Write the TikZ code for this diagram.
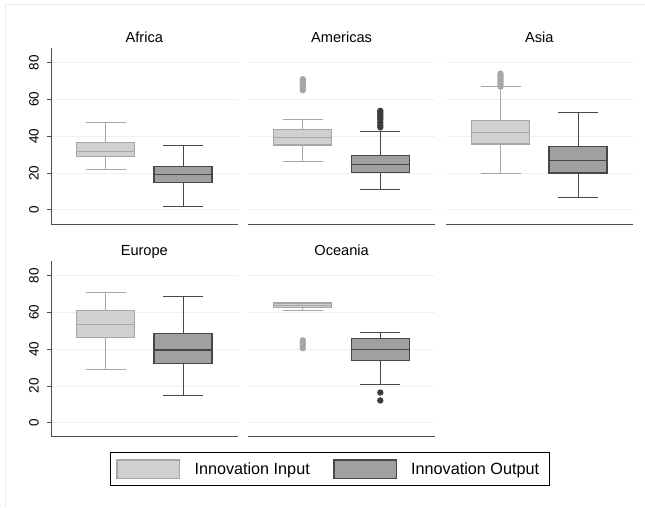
\documentclass[tikz,border=0pt]{standalone}
\usepackage{fontspec}
\setmainfont{Liberation Sans}
\definecolor{gridc}{HTML}{EAF2F3}
\definecolor{framec}{HTML}{E6EDEF}
\definecolor{axisc}{HTML}{4D4D4D}
\definecolor{infill}{HTML}{D0D0D0}
\definecolor{inline}{HTML}{A6A6A6}
\definecolor{outfill}{HTML}{A0A0A0}
\definecolor{outline}{HTML}{474747}
\definecolor{outdot}{HTML}{3C3C3C}

\tikzset{
  gridline/.style={gridc, line width=0.8pt},
  axisline/.style={axisc, line width=1pt},
  tickline/.style={axisc, line width=0.8pt},
  ticklabel/.style={rotate=90, font=\fontsize{13.5}{14}\selectfont, inner sep=0pt},
  paneltitle/.style={font=\fontsize{14.6}{16}\selectfont, inner sep=0pt, anchor=base},
  legendtext/.style={font=\fontsize{16.2}{18}\selectfont, inner sep=0pt, anchor=west},
  inwhisk/.style={inline, line width=1pt},
  outwhisk/.style={outline, line width=1pt},
  inbox/.style={draw=inline, fill=infill, line width=1.2pt},
  outbox/.style={draw=outline, fill=outfill, line width=1.2pt},
  indot/.style={fill=inline},
  outdotst/.style={fill=outdot},
}

% value scale: pixels per unit of the y axis
\newcommand{\vsc}{1.84}

% box with whiskers: #1 centre x, #2 y of zero, #3 lower whisker, #4 Q1,
% #5 median, #6 Q3, #7 upper whisker, #8 style prefix (in/out)
\newcommand{\whiskerbox}[8]{%
  \draw[#8whisk] (#1,{#2-\vsc*#3}) -- (#1,{#2-\vsc*#4})
                 (#1,{#2-\vsc*#6}) -- (#1,{#2-\vsc*#7})
                 ({#1-20},{#2-\vsc*#3}) -- ({#1+20},{#2-\vsc*#3})
                 ({#1-20},{#2-\vsc*#7}) -- ({#1+20},{#2-\vsc*#7});
  \draw[#8box] ({#1-29},{#2-\vsc*#4}) rectangle ({#1+29},{#2-\vsc*#6});
  \draw[#8whisk, line width=1.2pt] ({#1-29},{#2-\vsc*#5}) -- ({#1+29},{#2-\vsc*#5});
}

% outlying points: #1 centre x, #2 y of zero, #3 style, #4 list of values
\newcommand{\outpts}[4]{%
  \foreach \v in {#4} {\fill[#3] (#1,{#2-\vsc*\v}) circle (3.2pt);}
}

% panel frame: #1 left x, #2 y of zero, #3 x-axis y, #4 title baseline y, #5 title
\newcommand{\panelbase}[5]{%
  \foreach \g in {0,20,...,80} {\draw[gridline] (#1,{#2-\vsc*\g}) -- ({#1+186.7},{#2-\vsc*\g});}
  \draw[axisline] (#1,#3) -- ({#1+186.7},#3);
  \node[paneltitle] at ({#1+93.3},#4) {#5};
}

% y axis with ticks: #1 axis x, #2 y of zero, #3 axis top, #4 axis bottom
\newcommand{\yaxis}[4]{%
  \draw[axisline] (#1,#3) -- (#1,#4);
  \foreach \g in {0,20,...,80} {
    \draw[tickline] ({#1-4},{#2-\vsc*\g}) -- (#1,{#2-\vsc*\g});
    \node[ticklabel] at ({#1-17},{#2-\vsc*\g}) {\g};
  }
}

\begin{document}
\begin{tikzpicture}[x=1pt, y=-1pt]
  \useasboundingbox (0,0) rectangle (645,507);
  \fill[white] (0,0) rectangle (645,507);
  % outer frame edges
  \draw[framec, line width=1pt] (5,507) -- (5,4) -- (645,4);

  % ---- top row ----
  \panelbase{51}{209.8}{224}{42.7}{Africa}
  \panelbase{248.3}{209.8}{224}{42.7}{Americas}
  \panelbase{446}{209.8}{224}{42.7}{Asia}
  \yaxis{51}{209.8}{48}{224}

  % Africa
  \whiskerbox{105.5}{209.8}{22.0}{28.9}{31.8}{36.7}{47.7}{in}
  \whiskerbox{183}{209.8}{2.0}{14.7}{19.4}{23.4}{35.2}{out}

  % Americas
  \outpts{302.8}{209.8}{indot}{65,66,67,68,69,70,71}
  \whiskerbox{302.8}{209.8}{26.5}{35.2}{39.2}{43.7}{49.2}{in}
  \outpts{380.3}{209.8}{outdotst}{44.8,46,47.5,49,50,51,52,53,53.8}
  \whiskerbox{380.3}{209.8}{11.1}{20.1}{24.7}{29.6}{42.3}{out}

  % Asia
  \outpts{500.5}{209.8}{indot}{67,68,69,70,71,72,73,74}
  \whiskerbox{500.5}{209.8}{20.0}{35.8}{41.9}{48.4}{66.9}{in}
  \whiskerbox{578}{209.8}{6.5}{20.0}{26.9}{34.3}{53.0}{out}

  % ---- bottom row ----
  \panelbase{51}{422.7}{436.7}{255}{Europe}
  \panelbase{248.3}{422.7}{436.7}{255}{Oceania}
  \yaxis{51}{422.7}{260.7}{436.7}

  % Europe
  \whiskerbox{105.5}{422.7}{29.0}{46.2}{53.2}{61.1}{70.8}{in}
  \whiskerbox{183}{422.7}{14.8}{32.3}{39.5}{48.6}{68.6}{out}

  % Oceania
  \outpts{302.8}{422.7}{indot}{40.5,42,43.5,44.8}
  \whiskerbox{302.8}{422.7}{61.1}{62.4}{63.8}{65.1}{65.5}{in}
  \outpts{380.3}{422.7}{outdotst}{12.1,16.4}
  \whiskerbox{380.3}{422.7}{20.9}{33.9}{39.7}{45.8}{49.0}{out}

  % ---- legend ----
  \draw[black, line width=0.8pt] (110.3,452.7) rectangle (549.7,485.3);
  \draw[inbox] (117,460) rectangle (179.3,478.3);
  \node[legendtext] at (194.3,470) {Innovation Input};
  \draw[outbox] (334,460) rectangle (396.3,478.3);
  \node[legendtext] at (411,470) {Innovation Output};
\end{tikzpicture}
\end{document}
